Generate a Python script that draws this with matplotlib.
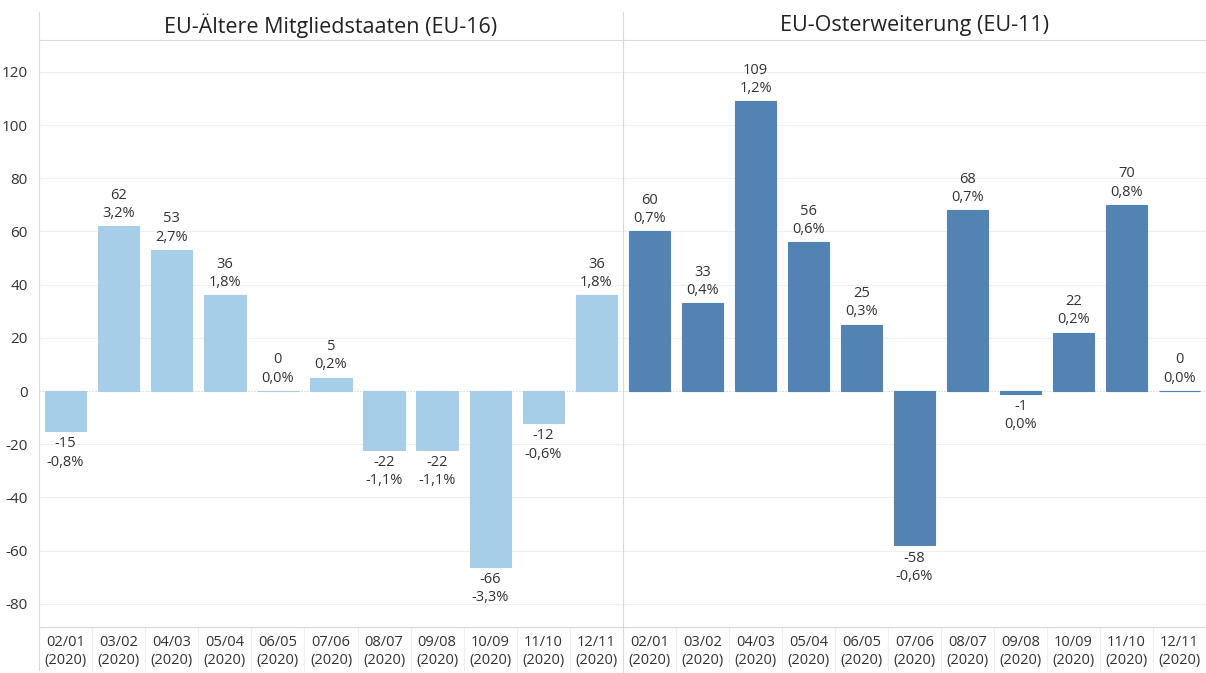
import matplotlib.pyplot as plt
from matplotlib.lines import Line2D
import numpy as np

# data
months = ["02/01", "03/02", "04/03", "05/04", "06/05", "07/06",
          "08/07", "09/08", "10/09", "11/10", "12/11"]
tick_labels = [m + "\n(2020)" for m in months]

eu16_title = "EU-Ältere Mitgliedstaaten (EU-16)"
eu16_values = [-15, 62, 53, 36, 0, 5, -22, -22, -66, -12, 36]
eu16_pct = ["-0,8%", "3,2%", "2,7%", "1,8%", "0,0%", "0,2%",
            "-1,1%", "-1,1%", "-3,3%", "-0,6%", "1,8%"]

eu11_title = "EU-Osterweiterung (EU-11)"
eu11_values = [60, 33, 109, 56, 25, -58, 68, -1, 22, 70, 0]
eu11_pct = ["0,7%", "0,4%", "1,2%", "0,6%", "0,3%", "-0,6%",
            "0,7%", "0,0%", "0,2%", "0,8%", "0,0%"]

plt.rcParams['font.family'] = ['Open Sans', 'DejaVu Sans']
plt.rcParams['axes.unicode_minus'] = False
text_col = '#333333'
grid_col = '#efefef'
line_col = '#d9d9d9'

W, H = 1206, 673
fig = plt.figure(figsize=(W / 100, H / 100), dpi=100)

panels = [
    (eu16_title, eu16_values, eu16_pct, '#a6cee8', 39, 623),
    (eu11_title, eu11_values, eu11_pct, '#5383b3', 623, 1206),
]
ax_top, ax_bot = 40, 627

for i, (title, vals, pcts, color, x0, x1) in enumerate(panels):
    ax = fig.add_axes([x0 / W, 1 - ax_bot / H, (x1 - x0) / W, (ax_bot - ax_top) / H])
    x = np.arange(len(vals))
    ax.bar(x, vals, width=0.78, color=color, edgecolor=color, linewidth=0.8)
    ax.set_xlim(-0.5, len(vals) - 0.5)
    ax.set_ylim(-88.7, 132)
    ax.set_yticks(np.arange(-80, 121, 20))
    for y in np.arange(-80, 121, 20):
        if y == 0:
            ax.axhline(0, color='#cccccc', lw=0.8, ls=':', zorder=0)
        else:
            ax.axhline(y, color=grid_col, lw=0.8, zorder=0)
    for xi, v, p in zip(x, vals, pcts):
        if v >= 0:
            ax.text(xi, v + 2, f"{v}\n{p}", ha='center', va='bottom',
                    fontsize=10.5, color=text_col, linespacing=1.3)
        else:
            ax.text(xi, v - 2, f"{v}\n{p}", ha='center', va='top',
                    fontsize=10.5, color=text_col, linespacing=1.3)
    ax.set_xticks(x)
    ax.set_xticklabels(tick_labels, fontsize=10.5, color=text_col, linespacing=1.25)
    ax.set_xticks(x[:-1] + 0.5, minor=True)
    ax.tick_params(axis='x', which='major', length=0, pad=6)
    ax.tick_params(axis='x', which='minor', length=32, color=grid_col, width=0.8)
    for s in ['left', 'right', 'top']:
        ax.spines[s].set_visible(False)
    ax.spines['bottom'].set_color(line_col)
    ax.spines['bottom'].set_linewidth(0.8)
    if i == 0:
        ax.tick_params(axis='y', length=0, labelsize=11, labelcolor=text_col, pad=8)
    else:
        ax.tick_params(axis='y', length=0, labelleft=False)
    fig.text((x0 + x1) / 2 / W, 1 - 26 / H, title, ha='center', va='center',
             fontsize=15.5, color='#222222')

# frame lines: header rule, left edge, panel separator
fig.add_artist(Line2D([39 / W, 1], [1 - ax_top / H] * 2, color=line_col, lw=0.8))
fig.add_artist(Line2D([39 / W] * 2, [1 - 12 / H, 1 - 670 / H], color=line_col, lw=0.8))
fig.add_artist(Line2D([623 / W] * 2, [1 - 12 / H, 1 - 673 / H], color=line_col, lw=0.8))

fig.savefig('out.png', dpi=100)
